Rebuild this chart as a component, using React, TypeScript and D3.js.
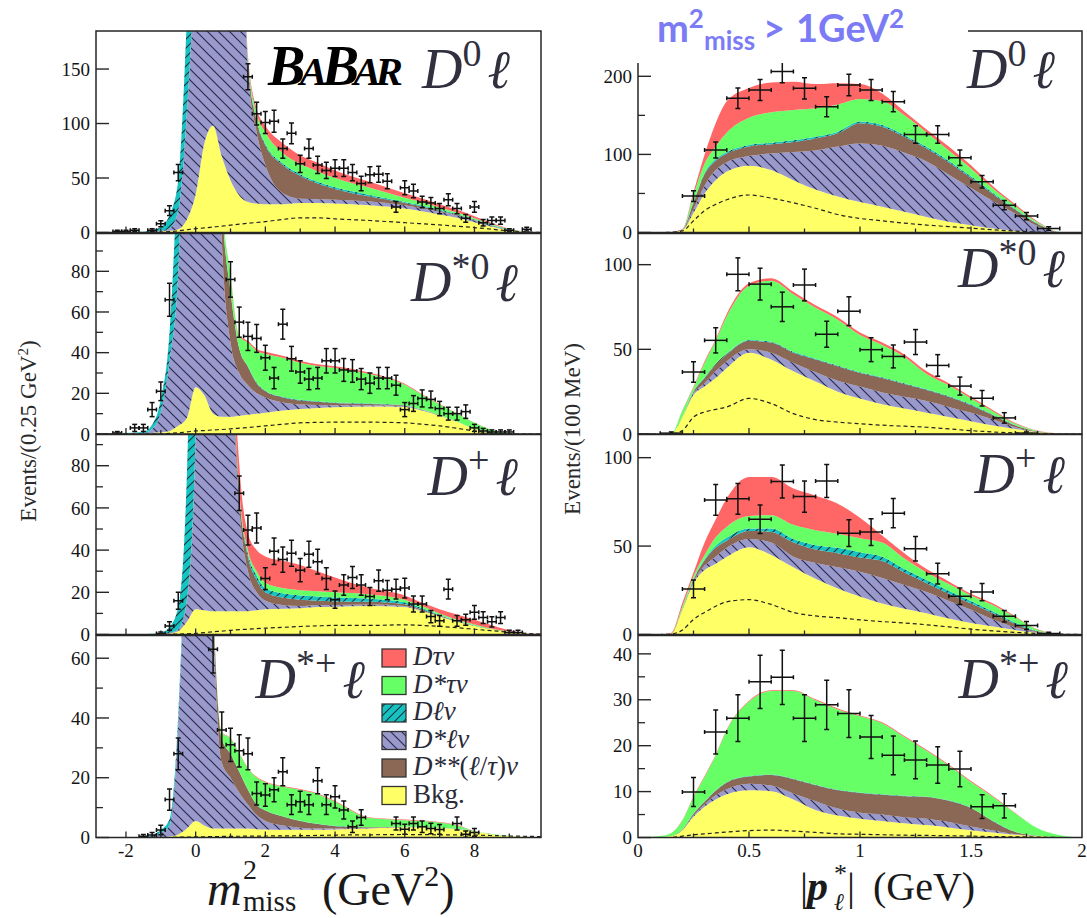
import React from 'react';
import * as d3 from 'd3';

// ---------- x grids ----------
const M2_GRID = [-2.86, -1.5, -1.25, -1.0, -0.75, -0.5, -0.25, 0, 0.25, 0.5, 0.75, 1.0, 1.25, 1.5, 1.75, 2.0, 2.5, 3.0, 3.5, 4.0, 5.0, 6.0, 6.5, 7.0, 7.5, 8.0, 8.5, 9.0, 9.5, 9.91];
const P_GRID = [0, 0.1, 0.15, 0.2, 0.25, 0.3, 0.35, 0.4, 0.5, 0.6, 0.7, 0.8, 0.9, 1.0, 1.1, 1.2, 1.3, 1.4, 1.5, 1.6, 1.7, 1.8, 1.9, 2.0];

// ---------- m2miss, D0 l ----------
const M2_D0_BKG = [0.3, 0.5, 0.7, 1, 1.5, 3, 12, 35, 82, 98, 70, 48, 34, 28, 26.5, 26, 26, 27, 27, 26.5, 25, 22, 19.5, 16.5, 13.5, 9.5, 5.2, 2, 0.5, 0];
const M2_D0_DSLNU = [0, 0, 0.2, 0.5, 2.5, 17, 98, 225, 368, 422, 430, 402, 346, 122, 65.5, 36, 10, 4, 3.5, 3.5, 3.5, 3, 2.8, 2.5, 2, 1.5, 1, 0.3, 0.1, 0];
const M2_D0_DSSLNU = [0, 0, 0, 0, 0, 0, 1, 3, 5, 5, 5, 5, 5, 5, 10, 18, 26, 21, 14.5, 10, 4.5, 2, 1.5, 1, 0.7, 0.5, 0.3, 0.1, 0, 0];
const M2_D0_DLNU = [0, 0.3, 1, 3.5, 12, 28, 89, 187, 150, 80, 30, 10, 3, 1.5, 1.5, 1.5, 1.5, 1.5, 1.5, 1.5, 1.5, 1, 0.9, 0.8, 0.6, 0.5, 0.3, 0.2, 0, 0];
const M2_D0_DSTAUNU = [0, 0, 0, 0, 0, 0, 0, 0, 0, 0, 0, 1, 2, 3, 6, 10.5, 9.5, 9.5, 9.5, 8.5, 6.5, 4, 3, 2.2, 1.5, 1, 0.9, 0.4, 0.1, 0];
const M2_D0_DTAUNU = [0, 0, 0, 0, 0, 0, 0, 0, 0, 0, 0, 0, 1, 3, 4, 6, 9, 8, 8, 7, 5.5, 4, 3.5, 3, 2.5, 2, 1, 0.5, 0.1, 0];
const M2_D0_DASH = [0, 0, 0.1, 0.3, 0.8, 1.5, 2.5, 3.5, 4.2, 5, 5.8, 6.7, 7.6, 8.5, 9.2, 10, 12, 13.5, 13.5, 12.5, 11, 9, 8, 7, 5.8, 4.5, 3, 1.5, 0.5, 0];
const M2_D0_DATA = [[-2.25, 1], [-2, 1], [-1.75, 2], [-1.25, 2], [-1, 8], [-0.75, 20], [-0.5, 55], [1.5, 143], [1.75, 109], [2, 101], [2.25, 102], [2.5, 77], [2.75, 91], [3, 63], [3.25, 77], [3.5, 62], [3.75, 57], [4, 59], [4.25, 59], [4.5, 55], [4.75, 45], [5, 53], [5.25, 53.5], [5.5, 47], [5.75, 23.5], [6, 41], [6.25, 38], [6.5, 28], [6.75, 27], [7, 22], [7.25, 30], [7.5, 22], [7.75, 13], [8, 23.5], [8.25, 9], [8.5, 11], [8.75, 11], [9, 2], [9.5, 3]];

// ---------- m2miss, D*0 l ----------
const M2_DS0_BKG = [0.2, 0.3, 0.5, 0.8, 1.5, 4, 8, 23, 19, 10, 8.5, 8.5, 9, 9.5, 10, 10.5, 11.5, 12.3, 12.8, 13.2, 13.5, 13.3, 11.5, 9, 6, 2.5, 0.8, 0.2, 0, 0];
const M2_DS0_DSLNU = [0, 0.2, 2, 10.2, 34.5, 76, 212, 277, 281, 240, 86.5, 36.5, 21, 14.5, 10, 7.5, 4, 2.2, 1.5, 1, 0.7, 0.5, 0.3, 0.2, 0.1, 0.1, 0, 0, 0, 0];
const M2_DS0_DSSLNU = [0, 0, 0, 0, 0, 0, 1, 2, 3, 5, 20, 25, 12, 9, 5, 3, 2.5, 2, 1.5, 1, 0.5, 0.2, 0.1, 0, 0, 0, 0, 0, 0, 0];
const M2_DS0_DLNU = [0, 0.5, 2, 6, 14, 60, 50, 30, 15, 5, 1, 0.5, 0.3, 0.3, 0.3, 0.3, 0.3, 0.3, 0.3, 0.3, 0.3, 0.2, 0.1, 0, 0, 0, 0, 0, 0, 0];
const M2_DS0_DSTAUNU = [0, 0, 0, 0, 0, 0, 0, 0, 0, 0.5, 2, 7.5, 5.7, 11.7, 15.7, 18.2, 19.2, 18.2, 17.4, 17, 14.5, 10, 7.2, 5.3, 3.9, 2.9, 1.2, 0.3, 0, 0];
const M2_DS0_DTAUNU = [0, 0, 0, 0, 0, 0, 0, 0, 0, 0, 0.3, 0.5, 0.5, 0.8, 0.8, 1, 1, 1, 0.8, 0.8, 0.6, 0.5, 0.4, 0.3, 0.2, 0.1, 0, 0, 0, 0];
const M2_DS0_DASH = [0, 0, 0, 0, 0.3, 0.6, 1, 1.5, 1.7, 2, 2.2, 2.5, 2.9, 3.2, 3.6, 4, 4.8, 5.5, 5.7, 5.8, 5.8, 5.5, 4.8, 4, 2.8, 1.5, 0.5, 0, 0, 0];
const M2_DS0_DATA = [[-2.25, 0.5], [-1.75, 3], [-1.5, 3], [-1.25, 12], [-1, 21], [-0.75, 66], [1, 76], [1.25, 55], [1.5, 48], [1.75, 47], [2, 37.5], [2.25, 27.5], [2.5, 54], [2.75, 37], [3, 30.5], [3.25, 27], [3.5, 27.5], [3.75, 36], [4, 36], [4.25, 31.5], [4.5, 31], [4.75, 27], [5, 25], [5.25, 27.5], [5.5, 27.5], [5.75, 24], [6, 12], [6.25, 15], [6.5, 17.5], [6.75, 17], [7, 12.5], [7.25, 10], [7.5, 10], [7.75, 11], [8, 3], [8.25, 1.5], [8.5, 1], [8.75, 1], [9, 1]];

// ---------- m2miss, D+ l ----------
const M2_DP_BKG = [0, 0, 0.1, 0.2, 0.5, 1.5, 6, 12, 11.5, 11, 11, 11, 11, 11, 11.5, 12, 12.2, 12.5, 13, 13.2, 13.5, 13, 11, 8.5, 6, 4, 2.5, 1.3, 0.5, 0.2];
const M2_DP_DSLNU = [0, 0, 0, 0.1, 0.3, 1, 10, 80, 300, 389, 389, 150, 50, 19, 8.5, 4, 1.8, 1, 1, 0.8, 0.7, 0.5, 0.3, 0.2, 0.1, 0.1, 0, 0, 0, 0];
const M2_DP_DSSLNU = [0, 0, 0, 0, 0, 0, 0.5, 2, 2, 2, 2, 2, 6, 7, 6, 4, 3.5, 3, 2, 1.7, 1.3, 0.8, 0.5, 0.3, 0.2, 0.1, 0, 0, 0, 0];
const M2_DP_DLNU = [0, 0.1, 0.2, 0.5, 2.7, 10.5, 60, 200, 150, 40, 15, 5, 1, 1.5, 2, 2, 2, 2, 2, 1.8, 1.5, 1, 0.7, 0.4, 0.2, 0.1, 0, 0, 0, 0];
const M2_DP_DSTAUNU = [0, 0, 0, 0, 0, 0, 0, 0, 0, 0, 0, 0.5, 1, 1.5, 2, 2.5, 2.5, 2.5, 2.5, 2.5, 2, 1.2, 1, 0.6, 0.5, 0.4, 0.2, 0.1, 0, 0];
const M2_DP_DTAUNU = [0, 0, 0, 0, 0, 0, 0, 0, 0, 0, 0, 2, 12, 8, 10, 12.5, 13, 12, 9.5, 7, 3, 2, 1.5, 2, 2.5, 2.3, 1.7, 0.6, 0.1, 0];
const M2_DP_DASH = [0, 0, 0, 0, 0.1, 0.2, 0.3, 0.5, 0.9, 1.3, 1.6, 2, 2.3, 2.5, 2.8, 3, 3.4, 3.8, 4.1, 4.3, 4.3, 4.6, 4.3, 3.8, 3.2, 2.5, 1.8, 1.1, 0.5, 0.2];
const M2_DP_DATA = [[-1, 0.5], [-0.75, 4], [-0.5, 16], [1.25, 67], [1.5, 49.5], [1.75, 50.5], [2, 26.5], [2.25, 39.5], [2.5, 35.5], [2.75, 38.5], [3, 30.5], [3.25, 38], [3.5, 34.5], [3.75, 26.5], [4, 16.5], [4.25, 23.5], [4.5, 27], [4.75, 23.5], [5, 18], [5.25, 25.5], [5.5, 21], [5.75, 21.5], [6, 22], [6.25, 14.5], [6.5, 14.5], [6.75, 8.5], [7, 6.5], [7.25, 21.5], [7.5, 6.5], [7.75, 7], [8, 10.5], [8.25, 8], [8.5, 6], [8.75, 8], [9, 1], [9.25, 1]];

// ---------- m2miss, D*+ l ----------
const M2_DSP_BKG = [0, 0, 0, 0.1, 0.3, 1, 3, 5.5, 4, 3, 3, 3, 3, 3, 2.8, 2.7, 2.6, 2.6, 2.6, 2.7, 3, 3.4, 3.4, 3.2, 2.8, 2, 1, 0.5, 0.2, 0];
const M2_DSP_DSLNU = [0, 0.1, 0.3, 1.4, 3.7, 37, 117, 244, 196, 72, 22, 17, 12, 8, 4.7, 2.8, 1.4, 0.7, 0.4, 0.3, 0.2, 0.1, 0.1, 0.1, 0.1, 0.1, 0, 0, 0, 0];
const M2_DSP_DSSLNU = [0, 0, 0, 0, 0, 0, 0, 2, 4, 5, 8, 8, 7, 5, 3.5, 3.5, 3, 2.2, 1.5, 0.8, 0.2, 0.1, 0, 0, 0, 0, 0, 0, 0, 0];
const M2_DSP_DLNU = [0, 0.1, 0.4, 1, 2, 3, 3, 2, 1, 0.5, 0.1, 0.1, 0.1, 0.1, 0.1, 0.1, 0.1, 0.1, 0.1, 0.1, 0, 0, 0, 0, 0, 0, 0, 0, 0, 0];
const M2_DSP_DSTAUNU = [0, 0, 0, 0, 0, 0, 0, 0, 0, 1, 2, 5, 6, 7, 9, 9.4, 9.9, 10.4, 9.9, 8.1, 3.1, 2.2, 2, 1.7, 1.1, 0.1, 0.2, 0.1, 0, 0];
const M2_DSP_DTAUNU = [0, 0, 0, 0, 0, 0, 0, 0, 0, 0, 0.2, 0.2, 0.2, 0.2, 0.2, 0.2, 0.2, 0.2, 0.2, 0.2, 0.2, 0.2, 0.2, 0.2, 0.2, 0, 0, 0, 0, 0];
const M2_DSP_DASH = [0, 0, 0, 0, 0, 0.1, 0.15, 0.2, 0.25, 0.3, 0.35, 0.4, 0.42, 0.45, 0.48, 0.5, 0.55, 0.6, 0.7, 0.8, 0.9, 1, 0.95, 0.9, 0.85, 0.8, 0.65, 0.5, 0.4, 0.3];
const M2_DSP_DATA = [[-1.5, 0.4], [-1.25, 0.8], [-1, 2.5], [-0.75, 12.7], [-0.5, 28], [0.5, 63], [0.75, 36], [1, 31], [1.25, 29], [1.5, 28], [1.75, 14.7], [2, 14.2], [2.25, 16], [2.5, 22], [2.75, 11], [3, 12], [3.25, 11], [3.5, 19], [3.75, 11], [4, 13.6], [4.25, 9.2], [4.5, 3.6], [4.75, 6.7], [5.75, 4.7], [6, 2.8], [6.25, 4.7], [6.5, 3.6], [6.75, 3], [7, 2.7], [7.5, 4.7], [7.75, 1.1], [8, 1.7]];

// ---------- p*_l, D0 l ----------
const P_D0_BKG = [0, 0.1, 0.5, 3, 25, 50, 67, 78, 85.5, 80, 67, 55, 46, 39, 33, 26.5, 20, 13.7, 9.4, 5, 2, 0.5, 0, 0];
const P_D0_DSLNU = [0, 0, 0, 0.5, 5, 10, 13, 12, 12.5, 21, 36, 50, 64, 75, 78, 75.5, 71, 60.3, 47.6, 35, 22, 7.5, 0.3, 0];
const P_D0_DSSLNU = [0, 0, 0, 0.3, 8, 15, 12, 11, 12, 12, 13, 15.5, 17, 26, 24.5, 20.6, 16.7, 16, 13, 9, 5, 3, 0.2, 0];
const P_D0_DLNU = [0, 0, 0, 0.1, 1, 1.5, 2, 2, 2, 2, 2, 2, 2, 2, 2, 2, 2, 2, 2, 1.5, 1, 0.5, 0, 0];
const P_D0_DSTAUNU = [0, 0, 0, 0.1, 9, 11.5, 16, 25, 35, 39, 39, 36.5, 35, 29, 30.5, 25.4, 18.3, 13, 10, 5.5, 4, 1.5, 0.1, 0];
const P_D0_DTAUNU = [0, 0, 0, 0.5, 4, 12, 30, 40, 38, 38, 36, 31, 27, 19, 10, 5, 4, 5, 4, 3, 2, 1, 0.1, 0];
const P_D0_DASH = [0, 0, 0.3, 2, 15, 28, 36, 42, 48, 44, 38, 31, 23, 18, 15, 12, 9.5, 7.5, 5.5, 3.5, 1.8, 0.5, 0, 0];
const P_D0_DATA = [[0.25, 46.6], [0.35, 105.6], [0.45, 171.8], [0.55, 182.5], [0.65, 206], [0.75, 184.6], [0.85, 161], [0.95, 189], [1.05, 182.5], [1.15, 167.5], [1.25, 125.6], [1.35, 125.6], [1.45, 95.7], [1.55, 65], [1.65, 35], [1.75, 21], [1.85, 5]];

// ---------- p*_l, D*0 l ----------
const P_DS0_BKG = [0, 0, 0.2, 10, 23, 28, 33, 39, 48, 44, 37, 31, 25, 21, 17.5, 15, 12.5, 10, 7.5, 5, 3, 1, 0.2, 0];
const P_DS0_DSLNU = [0, 0, 0, 0, 1, 2, 4, 4, 2, 4, 5, 5.5, 6.5, 7, 7, 7, 7, 6, 5, 3.5, 1, 0.2, 0, 0];
const P_DS0_DSSLNU = [0, 0, 0, 0.2, 1, 3, 4, 4, 5, 6, 6, 7.5, 8.5, 8, 8.5, 7.5, 6.5, 6, 4.5, 2.5, 1, 0.3, 0.1, 0];
const P_DS0_DLNU = [0, 0, 0, 0, 0.2, 0.5, 0.5, 0.5, 0.5, 0.5, 0.5, 0.5, 0.5, 0.5, 0.5, 0.5, 0.5, 0.5, 0.5, 0.3, 0.2, 0, 0, 0];
const P_DS0_DSTAUNU = [0, 0, 0, 3.5, 2.3, 8.5, 13.5, 22, 32, 36, 34, 30, 27, 22, 19, 15.5, 9, 6.3, 3.5, 2, 0.8, 0.3, 0, 0];
const P_DS0_DTAUNU = [0, 0, 0, 0.3, 0.5, 1, 1, 1.5, 1.5, 1.5, 1.5, 1.5, 1.5, 1.5, 1.5, 1.5, 1.5, 1.2, 1, 0.7, 0.5, 0.2, 0, 0];
const P_DS0_DASH = [0, 0, 0, 2, 10, 13, 14.5, 16, 21, 18, 12, 8.5, 7, 6, 5.2, 4.6, 4, 3, 2, 1.2, 0.6, 0.3, 0, 0];
const P_DS0_DATA = [[0.15, 0.5], [0.25, 36.6], [0.35, 55.3], [0.45, 94.3], [0.55, 88.5], [0.65, 75.1], [0.75, 88], [0.85, 58.9], [0.95, 72.5], [1.05, 49.8], [1.15, 45.8], [1.25, 54.3], [1.35, 40.5], [1.45, 28.3], [1.55, 21.1], [1.65, 9.5], [1.75, 0.5]];

// ---------- p*_l, D+ l ----------
const P_DP_BKG = [0, 0, 0.5, 14, 29, 36.5, 40, 44, 49.4, 45, 38, 31.5, 26, 21.5, 17.5, 14.5, 12, 9, 6.5, 4.5, 2.5, 1, 0.2, 0];
const P_DP_DSLNU = [0, 0, 0, 0.2, 1, 2.5, 4, 5, 4.6, 7, 6, 9, 12, 14, 14.5, 13.5, 12, 10, 7.5, 4, 1.5, 0.3, 0, 0];
const P_DP_DSSLNU = [0, 0, 0, 0.3, 1, 3, 5, 4, 4.5, 6, 8, 7.5, 8, 8, 9.5, 7, 5, 4, 3.5, 3.5, 2, 0.4, 0.1, 0];
const P_DP_DLNU = [0, 0, 0, 0.1, 0.3, 0.6, 1.2, 1.8, 1.5, 2, 2, 2.5, 3, 3, 2.5, 2, 1.8, 1.8, 1.5, 1, 0.7, 0.2, 0, 0];
const P_DP_DSTAUNU = [0, 0, 0.1, 1.4, 1.7, 2.4, 4.8, 6.2, 7, 7.5, 8, 8.5, 8, 8, 8, 6, 4.2, 3.7, 3, 3.5, 3.1, 0.8, 0.1, 0];
const P_DP_DTAUNU = [0, 0, 0.4, 2, 2, 7, 10, 16, 22, 21.5, 20.5, 19.5, 17, 11.5, 4, 3, 2, 1.5, 1, 1, 0.5, 0.2, 0, 0];
const P_DP_DASH = [0, 0, 0.3, 2.5, 8.5, 12.5, 16, 18.5, 19.7, 17, 12.5, 10.5, 9.5, 8.3, 7.3, 6.5, 5.5, 4.3, 3, 2, 1.2, 0.6, 0.2, 0];
const P_DP_DATA = [[0.25, 25.8], [0.35, 76.1], [0.45, 76.7], [0.55, 65.2], [0.65, 86.5], [0.75, 78], [0.85, 86.8], [0.95, 57.3], [1.05, 57.9], [1.15, 68.6], [1.25, 48.5], [1.35, 34.4], [1.45, 21.6], [1.55, 24], [1.65, 10.3], [1.75, 5.1], [1.85, 0.5]];

// ---------- p*_l, D*+ l ----------
const P_DSP_BKG = [0, 0.1, 0.3, 1.6, 4.5, 6.7, 8.3, 9.4, 10.3, 10.1, 8.3, 6, 4.8, 4.1, 3.6, 3.1, 2.7, 2.2, 1.6, 1.1, 0.6, 0.3, 0.1, 0];
const P_DSP_DSLNU = [0, 0, 0, 0.1, 0.3, 0.5, 0.9, 1.1, 1.4, 1.2, 1.3, 1.9, 1.5, 1.3, 1.4, 1.3, 1.4, 1.2, 0.8, 0.4, 0.1, 0, 0, 0];
const P_DSP_DSSLNU = [0, 0, 0, 0.1, 0.4, 0.6, 1, 1.5, 1.6, 2.3, 3.1, 3.5, 4, 4.3, 4.3, 4.6, 4.7, 4.6, 4, 2, 0.5, 0.1, 0, 0];
const P_DSP_DLNU = [0, 0, 0, 0, 0.1, 0.1, 0.1, 0.1, 0.1, 0.1, 0.1, 0.1, 0.1, 0.1, 0.1, 0.1, 0.1, 0.1, 0.1, 0.1, 0.05, 0, 0, 0];
const P_DSP_DSTAUNU = [0, 0.2, 0.7, 1.9, 3.5, 5.3, 7.6, 11.3, 16.2, 18.2, 19.1, 18.4, 17.5, 16.6, 15.5, 12.8, 10, 7.6, 5.6, 5.2, 4, 1.6, 0.4, 0];
const P_DSP_DTAUNU = [0, 0, 0, 0.1, 0.2, 0.2, 0.2, 0.2, 0.2, 0.2, 0.2, 0.2, 0.2, 0.2, 0.2, 0.2, 0.2, 0.2, 0.2, 0.2, 0.1, 0, 0, 0];
const P_DSP_DASH = [0, 0, 0, 0.3, 0.6, 0.8, 1, 1.2, 1.5, 1.6, 1.4, 1.1, 0.8, 0.7, 0.6, 0.5, 0.45, 0.4, 0.3, 0.2, 0.15, 0.1, 0, 0];
const P_DSP_DATA = [[0.25, 9.9], [0.35, 23], [0.45, 26], [0.55, 33.9], [0.65, 34.9], [0.75, 26], [0.85, 28.9], [0.95, 27], [1.05, 21.9], [1.15, 17.9], [1.25, 16.9], [1.35, 15.8], [1.45, 14.9], [1.55, 6.7], [1.65, 6.9]];

// ---------- tick labels ----------
const M2_TICK_LABELS = [-2, 0, 2, 4, 6, 8];
const P_TICK_LABELS = [0, 0.5, 1, 1.5, 2];

// ---------- layout / style ----------
const KEYS = ['bkg', 'dslnu', 'dsslnu', 'dlnu', 'dstaunu', 'dtaunu'];
const FILLS: Record<string, string> = {
  bkg: '#ffff66',
  dslnu: 'url(#hatchBack)',
  dsslnu: '#8b6856',
  dlnu: 'url(#hatchFwd)',
  dstaunu: '#66ff66',
  dtaunu: '#ff6666',
};
const SERIF = "'Liberation Serif', 'DejaVu Serif', 'Times New Roman', serif";
const ROWS = [[31, 232.5], [233.5, 434], [434.5, 634.5], [635.5, 837.5]];
const xM2 = d3.scaleLinear().domain([-2.86, 9.91]).range([96, 541]);
const xP = d3.scaleLinear().domain([0, 2]).range([638, 1082]);

type PanelDef = {
  id: string; col: number; row: number; yMax: number; major: number[]; minor: number[];
  comps: number[][]; dash: number[]; data: number[][];
  label: { x: number; y: number; star: boolean; sup: string };
};

const PANELS: PanelDef[] = [
  { id: 'l0', col: 0, row: 0, yMax: 184.9, major: [0, 50, 100, 150], minor: [],
    comps: [M2_D0_BKG, M2_D0_DSLNU, M2_D0_DSSLNU, M2_D0_DLNU, M2_D0_DSTAUNU, M2_D0_DTAUNU], dash: M2_D0_DASH, data: M2_D0_DATA,
    label: { x: 510, y: 88, star: false, sup: '0' } },
  { id: 'l1', col: 0, row: 1, yMax: 98.6, major: [0, 20, 40, 60, 80], minor: [10, 30, 50, 70, 90],
    comps: [M2_DS0_BKG, M2_DS0_DSLNU, M2_DS0_DSSLNU, M2_DS0_DLNU, M2_DS0_DSTAUNU, M2_DS0_DTAUNU], dash: M2_DS0_DASH, data: M2_DS0_DATA,
    label: { x: 518, y: 301, star: true, sup: '0' } },
  { id: 'l2', col: 0, row: 2, yMax: 94.8, major: [0, 20, 40, 60, 80], minor: [10, 30, 50, 70, 90],
    comps: [M2_DP_BKG, M2_DP_DSLNU, M2_DP_DSSLNU, M2_DP_DLNU, M2_DP_DSTAUNU, M2_DP_DTAUNU], dash: M2_DP_DASH, data: M2_DP_DATA,
    label: { x: 518, y: 495, star: false, sup: '+' } },
  { id: 'l3', col: 0, row: 3, yMax: 67.6, major: [0, 20, 40, 60], minor: [10, 30, 50],
    comps: [M2_DSP_BKG, M2_DSP_DSLNU, M2_DSP_DSSLNU, M2_DSP_DLNU, M2_DSP_DSTAUNU, M2_DSP_DTAUNU], dash: M2_DSP_DASH, data: M2_DSP_DATA,
    label: { x: 365, y: 698, star: true, sup: '+' } },
  { id: 'r0', col: 1, row: 0, yMax: 258, major: [0, 100, 200], minor: [50, 150],
    comps: [P_D0_BKG, P_D0_DSLNU, P_D0_DSSLNU, P_D0_DLNU, P_D0_DSTAUNU, P_D0_DTAUNU], dash: P_D0_DASH, data: P_D0_DATA,
    label: { x: 1055, y: 88, star: false, sup: '0' } },
  { id: 'r1', col: 1, row: 1, yMax: 118.4, major: [0, 50, 100], minor: [],
    comps: [P_DS0_BKG, P_DS0_DSLNU, P_DS0_DSSLNU, P_DS0_DLNU, P_DS0_DSTAUNU, P_DS0_DTAUNU], dash: P_DS0_DASH, data: P_DS0_DATA,
    label: { x: 1065, y: 287, star: true, sup: '0' } },
  { id: 'r2', col: 1, row: 2, yMax: 113.1, major: [0, 50, 100], minor: [],
    comps: [P_DP_BKG, P_DP_DSLNU, P_DP_DSSLNU, P_DP_DLNU, P_DP_DSTAUNU, P_DP_DTAUNU], dash: P_DP_DASH, data: P_DP_DATA,
    label: { x: 1065, y: 493, star: false, sup: '+' } },
  { id: 'r3', col: 1, row: 3, yMax: 44.0, major: [0, 10, 20, 30, 40], minor: [5, 15, 25, 35],
    comps: [P_DSP_BKG, P_DSP_DSLNU, P_DSP_DSSLNU, P_DSP_DLNU, P_DSP_DSTAUNU, P_DSP_DTAUNU], dash: P_DSP_DASH, data: P_DSP_DATA,
    label: { x: 1068, y: 698, star: true, sup: '+' } },
];

function PanelLabel({ x, y, star, sup }: { x: number; y: number; star: boolean; sup: string }) {
  return (
    <text x={x} y={y} textAnchor="end" fontFamily={SERIF} fontSize={56} fill="#30303e">
      <tspan fontStyle="italic">D</tspan>
      <tspan fontSize={38} dy={-22}>{star ? '*' : ''}{sup}</tspan>
      <tspan dy={22} dx={6} fontStyle="italic" fontSize={54}>ℓ</tspan>
    </text>
  );
}

function Panel({ p }: { p: PanelDef }) {
  const [top, bottom] = ROWS[p.row];
  const xs = p.col === 0 ? xM2 : xP;
  const [x0, x1] = xs.range();
  const grid = p.col === 0 ? M2_GRID : P_GRID;
  const y = d3.scaleLinear().domain([0, p.yMax]).range([bottom, top]);
  const rows = grid.map((g, i) => {
    const r: any = { x: g };
    KEYS.forEach((k, j) => { r[k] = p.comps[j][i]; });
    return r;
  });
  const series = d3.stack<any>().keys(KEYS)(rows);
  const area = d3.area<any>()
    .x((d: any) => xs(d.data.x))
    .y0((d: any) => y(d[0]))
    .y1((d: any) => y(d[1]))
    .curve(d3.curveMonotoneX);
  const dashLine = d3.line<number>()
    .x((_, i) => xs(grid[i]))
    .y((v) => y(v))
    .curve(d3.curveMonotoneX);
  const hw = p.col === 0 ? 0.125 : 0.05;
  const clipId = `clip-${p.id}`;

  const xTicks: { v: number; len: number }[] = [];
  if (p.col === 0) {
    for (let v = -2; v <= 9; v++) xTicks.push({ v, len: v % 2 === 0 ? 6 : 4 });
  } else {
    for (let k = 1; k <= 7; k++) xTicks.push({ v: k * 0.25, len: k % 2 === 0 ? 6 : 4 });
  }

  return (
    <g>
      <clipPath id={clipId}>
        <rect x={x0} y={top} width={x1 - x0} height={bottom - top} />
      </clipPath>
      <g clipPath={`url(#${clipId})`}>
        {series.map((s: any) => (
          <path key={s.key} d={area(s) || ''} fill={FILLS[s.key]} stroke="none" />
        ))}
        <path d={dashLine(p.dash) || ''} fill="none" stroke="#222" strokeWidth={1.2} strokeDasharray="4 3" />
        {p.data.map(([xv, n], i) => {
          const e = Math.sqrt(n);
          const cx = xs(xv);
          const cy = y(n);
          const yl = y(Math.max(0, n - e));
          const yh = y(n + e);
          const xl = xs(xv - hw);
          const xh = xs(xv + hw);
          return (
            <g key={i} stroke="#111" strokeWidth={1.5}>
              <line x1={xl} x2={xh} y1={cy} y2={cy} />
              <line x1={cx} x2={cx} y1={yl} y2={yh} />
              <line x1={cx - 2.5} x2={cx + 2.5} y1={yl} y2={yl} />
              <line x1={cx - 2.5} x2={cx + 2.5} y1={yh} y2={yh} />
              <line x1={xl} x2={xl} y1={cy - 2} y2={cy + 2} />
              <line x1={xh} x2={xh} y1={cy - 2} y2={cy + 2} />
            </g>
          );
        })}
      </g>
      <rect x={x0} y={top} width={x1 - x0} height={bottom - top} fill="none" stroke="#262626" strokeWidth={1.5} />
      {p.major.map((v) => (
        <line key={'M' + v} x1={x0} x2={x0 + 13} y1={y(v)} y2={y(v)} stroke="#262626" strokeWidth={1.4} />
      ))}
      {p.minor.map((v) => (
        <line key={'m' + v} x1={x0} x2={x0 + 7} y1={y(v)} y2={y(v)} stroke="#262626" strokeWidth={1.3} />
      ))}
      {p.major.map((v) => (
        <text key={'t' + v} x={x0 - 6} y={y(v)} dy="0.35em" textAnchor="end" fontFamily={SERIF} fontSize={19} fill="#141414">{v}</text>
      ))}
      {xTicks.map((t) => (
        <line key={'x' + t.v} x1={xs(t.v)} x2={xs(t.v)} y1={bottom} y2={bottom - t.len} stroke="#262626" strokeWidth={1.3} />
      ))}
      <PanelLabel {...p.label} />
    </g>
  );
}

const LEGEND_ITEMS = [
  { key: 'dtaunu', parts: [['D', true], ['τν', true]] },
  { key: 'dstaunu', parts: [['D*', true], ['τν', true]] },
  { key: 'dlnu', parts: [['Dℓν', true]] },
  { key: 'dslnu', parts: [['D*', true], ['ℓν', true]] },
  { key: 'dsslnu', parts: [['D**', true], ['(', false], ['ℓ', true], ['/', false], ['τ', true], [')', false], ['ν', true]] },
  { key: 'bkg', parts: [['Bkg.', false]] },
];

function Legend() {
  const x = 382;
  const rowsY = [649, 676.5, 704, 731.5, 759, 786.5];
  return (
    <g>
      {LEGEND_ITEMS.map((it, i) => (
        <g key={it.key}>
          <rect x={x} y={rowsY[i]} width={24} height={18} fill={FILLS[it.key]} stroke="#333" strokeWidth={1.3} />
          <text x={413} y={rowsY[i] + 16} fontFamily={SERIF} fontSize={27} fill="#2a2a38">
            {it.parts.map(([t, ital], j) => (
              <tspan key={j} fontStyle={ital ? 'italic' : 'normal'}>{t as string}</tspan>
            ))}
          </text>
        </g>
      ))}
    </g>
  );
}

export default function App() {
  return (
    <svg width={1087} height={918} viewBox="0 0 1087 918" style={{ position: 'absolute', left: 0, top: 0, background: '#fff' }}>
      <defs>
        <pattern id="hatchBack" patternUnits="userSpaceOnUse" width={11} height={11}>
          <rect width={11} height={11} fill="#9999cc" />
          <path d="M0,0 L11,11 M-2,9 L2,13 M9,-2 L13,2" stroke="#2b2b4f" strokeWidth={1.2} />
        </pattern>
        <pattern id="hatchFwd" patternUnits="userSpaceOnUse" width={9} height={9}>
          <rect width={9} height={9} fill="#17c2c2" />
          <path d="M0,9 L9,0 M-2,2 L2,-2 M7,11 L11,7" stroke="#10303a" strokeWidth={1.1} />
        </pattern>
      </defs>
      <rect x={0} y={0} width={1087} height={918} fill="#fff" />
      {PANELS.map((p) => <Panel key={p.id} p={p} />)}

      {M2_TICK_LABELS.map((v) => (
        <text key={'lx' + v} x={xM2(v)} y={857} textAnchor="middle" fontFamily={SERIF} fontSize={19} fill="#141414">{v}</text>
      ))}
      {P_TICK_LABELS.map((v) => (
        <text key={'rx' + v} x={xP(v)} y={857} textAnchor="middle" fontFamily={SERIF} fontSize={19} fill="#141414">{v}</text>
      ))}

      <text x={268} y={85} fontFamily={SERIF} fontWeight="bold" fontStyle="italic" fontSize={56} letterSpacing={-5.5} fill="#000">
        B<tspan fontSize={41}>A</tspan>B<tspan fontSize={41}>AR</tspan>
      </text>

      <rect x={600} y={0} width={368} height={63} fill="#fff" />
      <text y={42} fontFamily="Lato, 'Open Sans', sans-serif" fontWeight={700} fill="#7b7bf5">
        <tspan x={657} fontSize={38}>m</tspan>
        <tspan y={28} fontSize={26}>2</tspan>
        <tspan y={50} fontSize={26}>miss</tspan>
        <tspan x={763} y={42} fontSize={38}>&gt;</tspan>
        <tspan x={796} y={42} fontSize={38}>1GeV</tspan>
        <tspan y={28} fontSize={26}>2</tspan>
      </text>

      <Legend />

      <text transform="translate(36,431) rotate(-90)" textAnchor="middle" fontFamily={SERIF} fontSize={23} fill="#2a2a2a">
        Events/(0.25 GeV<tspan dy={-8} fontSize={15}>2</tspan><tspan dy={8}>)</tspan>
      </text>
      <text transform="translate(580,429) rotate(-90)" textAnchor="middle" fontFamily={SERIF} fontSize={23} fill="#2a2a2a">
        Events/(100 MeV)
      </text>

      <text x={207} y={905} fontFamily={SERIF} fontStyle="italic" fontSize={48} fill="#1a1a1a">m</text>
      <text x={243} y={879} fontFamily={SERIF} fontSize={28} fill="#1a1a1a">2</text>
      <text x={243} y={911} fontFamily={SERIF} fontSize={29} fill="#1a1a1a">miss</text>
      <text fontFamily={SERIF} fill="#1a1a1a">
        <tspan x={322} y={905} fontSize={46}>(GeV</tspan>
        <tspan y={886} fontSize={30}>2</tspan>
        <tspan y={905} fontSize={46}>)</tspan>
      </text>
      <text fontFamily={SERIF} fill="#1a1a1a">
        <tspan x={800} y={900} fontSize={40}>|</tspan>
        <tspan x={807} y={900} fontSize={42} fontStyle="italic" fontWeight="bold">p</tspan>
        <tspan x={834} y={882} fontSize={26}>*</tspan>
      </text>
      <text x={834} y={910} fontFamily={SERIF} fontSize={24} fontStyle="italic" fill="#1a1a1a">ℓ</text>
      <text fontFamily={SERIF} fill="#1a1a1a">
        <tspan x={847} y={900} fontSize={40}>|</tspan>
        <tspan x={873} y={900} fontSize={40}>(GeV)</tspan>
      </text>
    </svg>
  );
}
